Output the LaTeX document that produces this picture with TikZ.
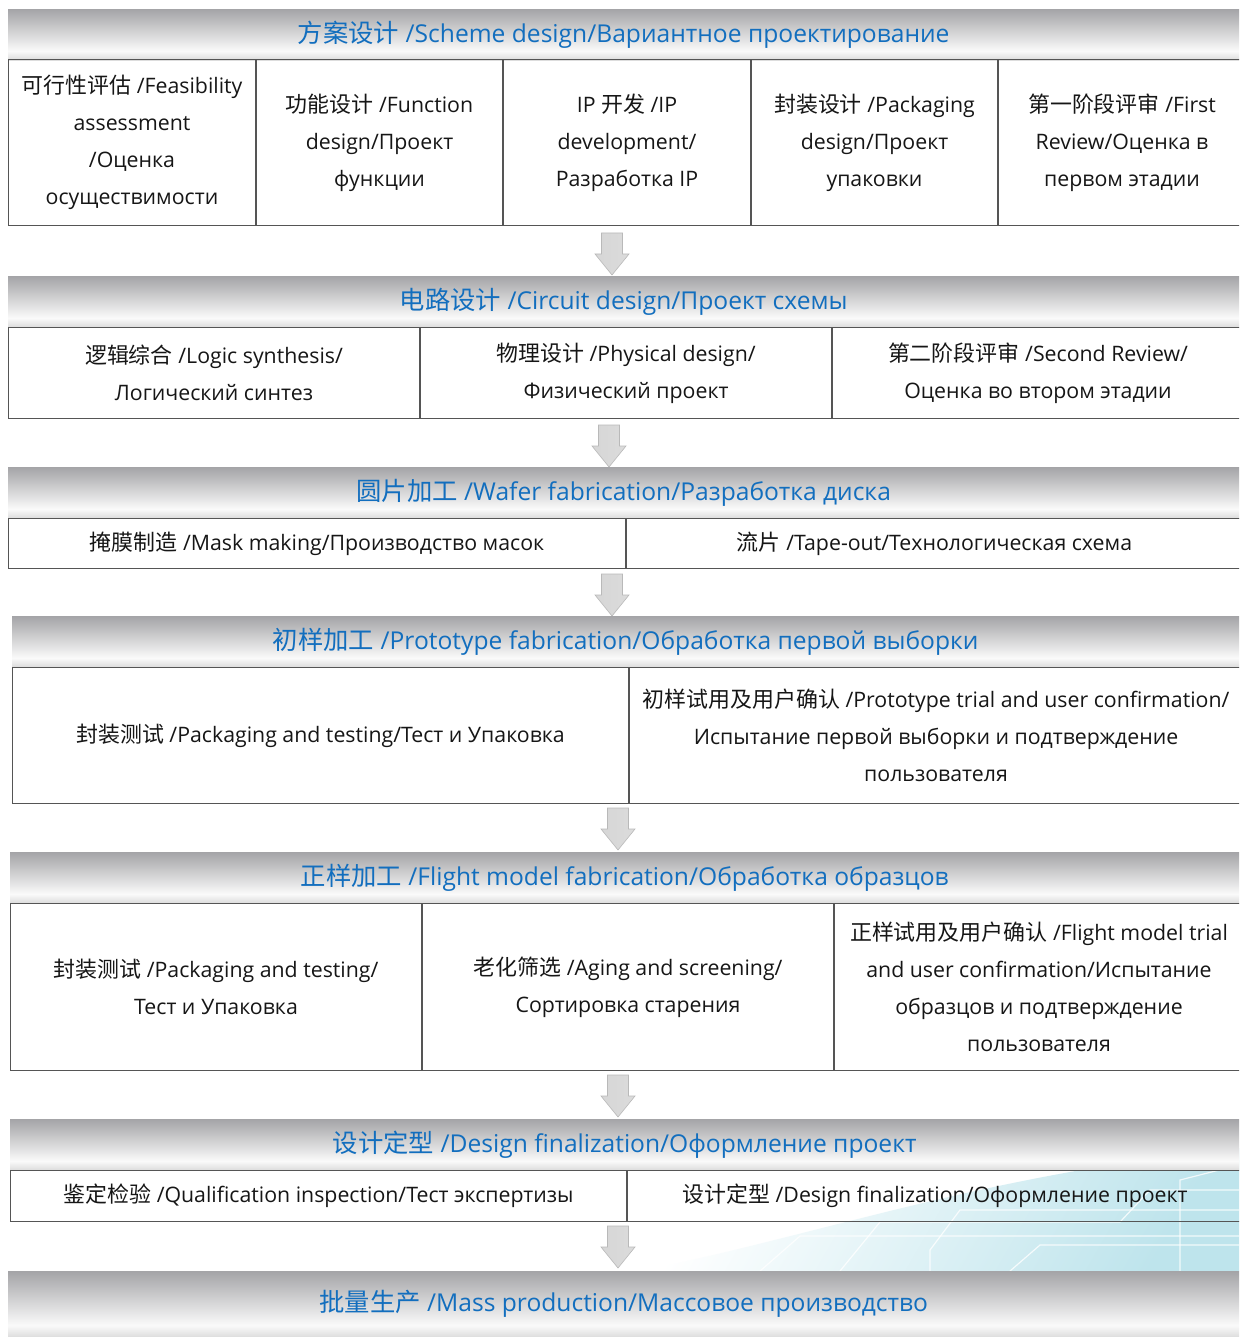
\documentclass[tikz,border=0pt]{standalone}
\usepackage{fontspec}
\setmainfont{Open Sans}
\newfontfamily\zhfont[Scale=1.03]{Noto Sans CJK SC}
\newcommand\zh[1]{{\zhfont #1}}
\definecolor{hdrblue}{RGB}{18,110,190}
\definecolor{celltext}{RGB}{22,22,22}
\definecolor{rulegray}{RGB}{85,85,85}
\definecolor{bartop}{RGB}{164,164,167}
\definecolor{barwhite}{RGB}{250,250,250}
\definecolor{barlow}{RGB}{220,220,220}
\definecolor{decocyan}{RGB}{190,228,236}
\pgfdeclareverticalshading{barshade}{100bp}{color(0bp)=(barlow); color(25bp)=(barlow); color(34bp)=(barwhite); color(75bp)=(bartop); color(100bp)=(bartop)}
\tikzset{
  hdr/.style={shading=barshade, anchor=north west, inner sep=0pt, minimum height=51pt,
    text=hdrblue, font=\fontsize{24.6}{28}\selectfont},
  cell/.style={draw=rulegray, line width=1pt, anchor=north west, inner sep=0pt,
    align=center, text=celltext, font=\fontsize{21.3}{37}\selectfont},
  blockarr/.style={draw=gray!55, line width=0.6pt, left color=gray!32, middle color=white, right color=gray!28},
  trace/.style={white, line width=1.2pt, opacity=0.8}
}
\begin{document}
\begin{tikzpicture}[x=1pt,y=-1pt]
  \useasboundingbox (0,0) rectangle (1239,1337);
  \clip (0,0) rectangle (1239,1337);
  \fill[white] (0,0) rectangle (1239,1337);
  % circuit backdrop, lower right
  \shade[left color=white, right color=decocyan, shading angle=60]
    (640,1271) .. controls (820,1235) and (980,1175) .. (1239,1148) -- (1239,1271) -- cycle;
  \draw[trace] (760,1271) -- (800,1236) -- (1239,1236);
  \draw[trace] (840,1271) -- (880,1222) -- (1120,1222) -- (1150,1190) -- (1239,1190);
  \draw[trace] (930,1271) -- (930,1250) -- (960,1210) -- (1239,1210);
  \draw[trace] (1010,1271) -- (1040,1245) -- (1239,1245);
  \draw[trace] (1180,1271) -- (1180,1180) -- (1239,1165);

  % 1
  \node[hdr, minimum width=1231pt] (hdr1) at (8,9) {\zh{方案设计} /Scheme design/Вариантное проектирование};
  \node[cell, minimum width=247pt, minimum height=166pt] (c11) at (8,59) {\zh{可行性评估} /Feasibility\\assessment\\/Оценка\\осуществимости};
  \node[cell, minimum width=246pt, minimum height=166pt] (c12) at (c11.north east) {\zh{功能设计} /Function\\design/Проект\\функции};
  \node[cell, minimum width=247pt, minimum height=166pt] (c13) at (c12.north east) {IP \zh{开发} /IP\\development/\\Разработка IP};
  \node[cell, minimum width=246pt, minimum height=166pt] (c14) at (c13.north east) {\zh{封装设计} /Packaging\\design/Проект\\упаковки};
  \node[cell, minimum width=247pt, minimum height=166pt] (c15) at (c14.north east) {\zh{第一阶段评审} /First\\Review/Оценка в\\первом этадии};

  % 2
  \node[hdr, minimum width=1231pt] (hdr2) at (8,276) {\zh{电路设计} /Circuit design/Проект схемы};
  \node[cell, minimum width=411pt, minimum height=91pt] (c21) at (8,327) {\zh{逻辑综合} /Logic synthesis/\\Логический синтез};
  \node[cell, minimum width=411pt, minimum height=91pt] (c22) at (c21.north east) {\zh{物理设计} /Physical design/\\Физический проект};
  \node[cell, minimum width=411pt, minimum height=91pt] (c23) at (c22.north east) {\zh{第二阶段评审} /Second Review/\\Оценка во втором этадии};

  % 3
  \node[hdr, minimum width=1231pt] (hdr3) at (8,467) {\zh{圆片加工} /Wafer fabrication/Разработка диска};
  \node[cell, minimum width=617pt, minimum height=50pt] (c31) at (8,518) {\zh{掩膜制造} /Mask making/Производство масок};
  \node[cell, minimum width=616pt, minimum height=50pt] (c32) at (c31.north east) {\zh{流片} /Tape-out/Технологическая схема};

  % 4
  \node[hdr, minimum width=1227pt] (hdr4) at (12,616) {\zh{初样加工} /Prototype fabrication/Обработка первой выборки};
  \node[cell, minimum width=616pt, minimum height=136pt] (c41) at (12,667) {\zh{封装测试} /Packaging and testing/Тест и Упаковка};
  \node[cell, minimum width=613pt, minimum height=136pt] (c42) at (c41.north east) {\zh{初样试用及用户确认} /Prototype trial and user confirmation/\\Испытание первой выборки и подтверждение\\пользователя};

  % 5
  \node[hdr, minimum width=1229pt] (hdr5) at (10,852) {\zh{正样加工} /Flight model fabrication/Обработка образцов};
  \node[cell, minimum width=411pt, minimum height=167pt] (c51) at (10,903) {\zh{封装测试} /Packaging and testing/\\Тест и Упаковка};
  \node[cell, minimum width=411pt, minimum height=167pt] (c52) at (c51.north east) {\zh{老化筛选} /Aging and screening/\\Сортировка старения};
  \node[cell, minimum width=409pt, minimum height=167pt] (c53) at (c52.north east) {\zh{正样试用及用户确认} /Flight model trial\\and user confirmation/Испытание\\образцов и подтверждение\\пользователя};

  % 6
  \node[hdr, minimum width=1229pt] (hdr6) at (10,1119) {\zh{设计定型} /Design finalization/Оформление проект};
  \node[cell, minimum width=616pt, minimum height=51pt] (c61) at (10,1170) {\zh{鉴定检验} /Qualification inspection/Тест экспертизы};
  \node[cell, minimum width=615pt, minimum height=51pt] (c62) at (c61.north east) {\zh{设计定型} /Design finalization/Оформление проект};

  % 7
  \node[hdr, minimum width=1231pt, minimum height=66pt] (hdr7) at (8,1271) {\zh{批量生产} /Mass production/Массовое производство};

  % down arrows between the blocks
  \foreach \ax/\ay in {612/233, 609/425, 612/574, 618/808, 618/1075, 618/1226}
    \draw[blockarr] (\ax-10.5,\ay) -- (\ax+10.5,\ay) -- (\ax+10.5,\ay+21) -- (\ax+17,\ay+21)
      -- (\ax,\ay+42) -- (\ax-17,\ay+21) -- (\ax-10.5,\ay+21) -- cycle;
\end{tikzpicture}
\end{document}
